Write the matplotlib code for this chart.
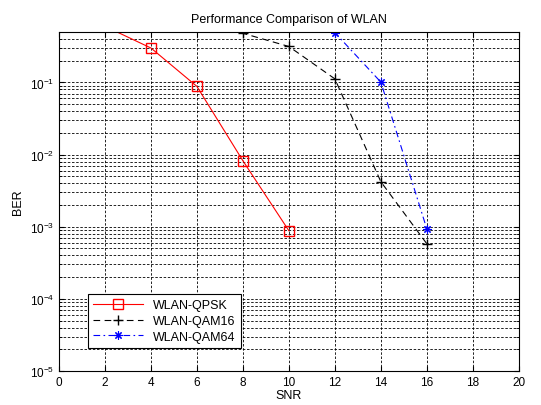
import numpy as np
import matplotlib
matplotlib.use("Agg")
import matplotlib.pyplot as plt

plt.rcParams['font.family'] = ['Liberation Sans', 'DejaVu Sans']
plt.rcParams['mathtext.fontset'] = 'custom'
plt.rcParams['mathtext.rm'] = 'Liberation Sans'
plt.rcParams['mathtext.it'] = 'Liberation Sans'

# BER vs SNR for each modulation
snr_qpsk = [2, 4, 6, 8, 10]
ber_qpsk = [0.6, 0.3, 0.088, 0.0082, 8.8e-4]

snr_qam16 = [6, 8, 10, 12, 14, 16]
ber_qam16 = [0.62, 0.48, 0.315, 0.112, 0.0042, 5.8e-4]

snr_qam64 = [10, 12, 14, 16]
ber_qam64 = [0.6, 0.49, 0.101, 9.3e-4]

fig = plt.figure(figsize=(5.41, 4.06), dpi=100)
ax = fig.add_axes([0.109, 0.0837, 0.85, 0.835])

ax.semilogy(snr_qpsk, ber_qpsk, 'r-', marker='s', mfc='none', ms=6.5, lw=0.8,
            label='WLAN-QPSK')
ax.semilogy(snr_qam16, ber_qam16, 'k', ls=(0, (6, 4)), marker='+', ms=7, lw=0.8,
            label='WLAN-QAM16')
ax.semilogy(snr_qam64, ber_qam64, 'b', ls=(0, (6, 3, 1.5, 3)), marker=(8, 2, 0),
            ms=6, mew=0.8, lw=0.8, label='WLAN-QAM64')

ax.set_xlim(0, 20)
ax.set_ylim(1e-5, 0.5)
ax.set_xticks(np.arange(0, 21, 2))
ax.grid(True, which='major', color='k', ls=(0, (3, 2)), lw=0.6)
ax.grid(True, which='minor', axis='y', color='k', ls=(0, (3, 2)), lw=0.6)
ax.tick_params(which='both', direction='in', top=True, right=True, labelsize=8.5)

ax.set_title('Performance Comparison of WLAN', fontsize=9, pad=7)
ax.set_xlabel('SNR', fontsize=9, labelpad=1)
ax.set_ylabel('BER', fontsize=9)

leg = ax.legend(loc='lower left', bbox_to_anchor=(0.05, 0.05), fontsize=9,
                fancybox=False, framealpha=1, edgecolor='k', borderpad=0.4,
                handlelength=4, labelspacing=0.3)
leg.get_frame().set_linewidth(0.8)

fig.savefig('out.png', dpi=100)
